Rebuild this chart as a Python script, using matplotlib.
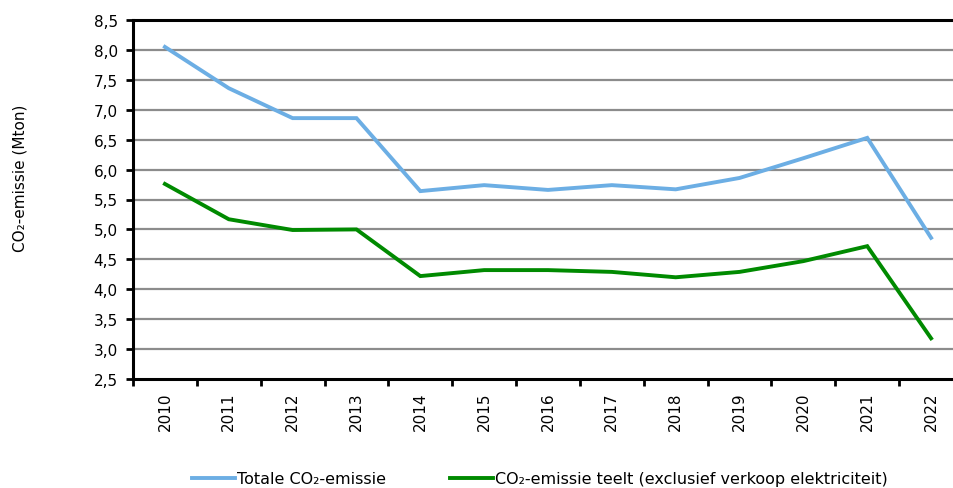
import matplotlib
matplotlib.use("Agg")
import matplotlib.pyplot as plt

years = ["2010", "2011", "2012", "2013", "2014", "2015", "2016",
         "2017", "2018", "2019", "2020", "2021", "2022"]
totaal = [8.05, 7.36, 6.86, 6.86, 5.64, 5.74, 5.66, 5.74, 5.67, 5.86, 6.19, 6.53, 4.86]
teelt = [5.76, 5.17, 4.99, 5.00, 4.22, 4.32, 4.32, 4.29, 4.20, 4.29, 4.47, 4.72, 3.18]
yticks = [2.5, 3.0, 3.5, 4.0, 4.5, 5.0, 5.5, 6.0, 6.5, 7.0, 7.5, 8.0, 8.5]

plt.rcParams['font.family'] = ['DejaVu Sans']

fig = plt.figure(figsize=(9.54, 4.89), dpi=100)
W, H = 954, 489
left, right, top, bottom = 133, 963, 21, 380
ax = fig.add_axes([left / W, 1 - bottom / H, (right - left) / W, (bottom - top) / H])

x = list(range(len(years)))
ax.set_axisbelow(True)
for v in yticks[1:-1]:
    ax.axhline(v, color="#8c8c8c", lw=1.6, zorder=0)

l1, = ax.plot(x, totaal, color="#6caee4", lw=2.8, label="Totale CO\u2082-emissie",
              solid_joinstyle="miter", zorder=3)
l2, = ax.plot(x, teelt, color="#008a00", lw=2.8,
              label="CO\u2082-emissie teelt (exclusief verkoop elektriciteit)",
              solid_joinstyle="miter", zorder=3)

ax.set_xlim(-0.5, len(years) - 0.5)
ax.set_ylim(2.5, 8.5)

ax.set_yticks(yticks)
ax.set_yticklabels([f"{v:.1f}".replace(".", ",") for v in yticks], fontsize=11)

ax.set_xticks(x)
ax.set_xticklabels(years, rotation=90, fontsize=11)
ax.tick_params(axis="x", which="major", length=0, pad=9)
ax.set_xticks([i - 0.5 for i in range(len(years) + 1)], minor=True)
ax.tick_params(axis="x", which="minor", length=5, width=2, direction="out")
ax.tick_params(axis="y", length=5, width=2, direction="out", pad=6)

for s in ["left", "bottom", "top"]:
    ax.spines[s].set_linewidth(2.2)
    ax.spines[s].set_color("black")
ax.spines["right"].set_visible(False)

fig.text(20 / W, 1 - 178 / H, "CO\u2082-emissie (Mton)", rotation=90,
         ha="center", va="center", fontsize=11)

fig.legend(handles=[l1, l2], loc="center left", bbox_to_anchor=(192 / W, 1 - 480 / H),
           ncol=2, frameon=False, fontsize=11.5, handlelength=2.7,
           handletextpad=0.12, columnspacing=4.0, borderpad=0, borderaxespad=0)

fig.savefig("out.png", dpi=100)
